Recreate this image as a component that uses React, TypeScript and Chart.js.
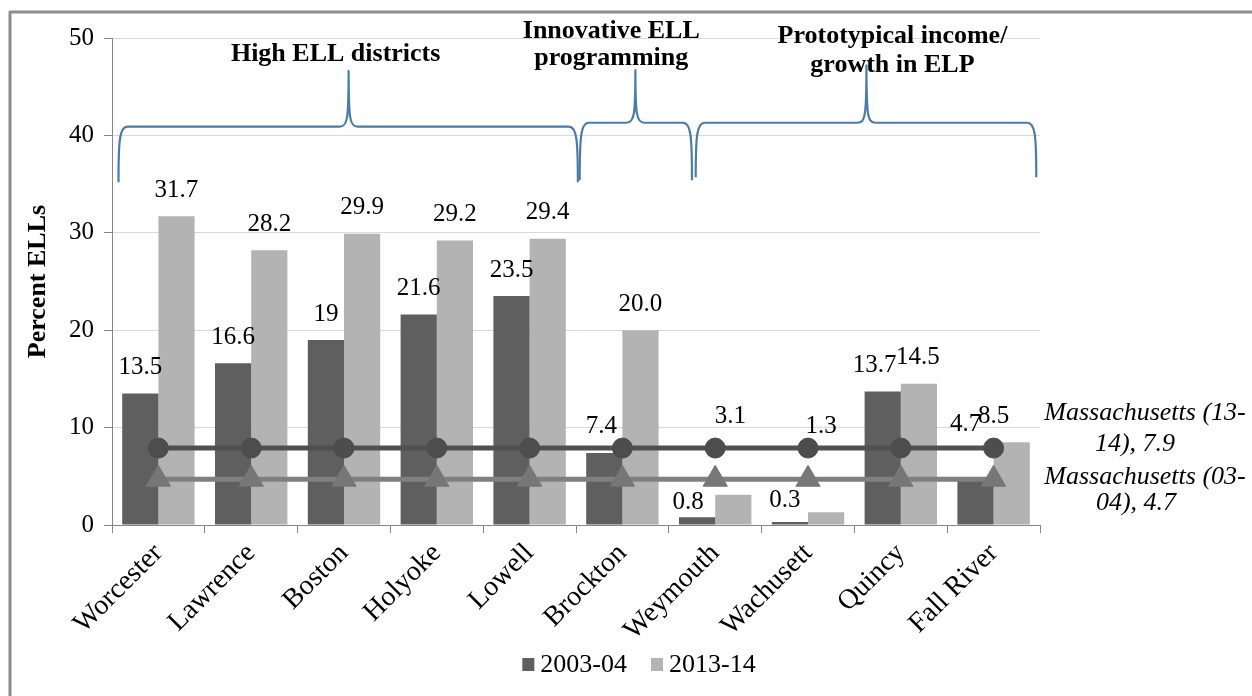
import React, { useEffect, useRef } from 'react';
import { Chart, registerables } from 'chart.js';

Chart.register(...registerables);

// ---- data ----
const categories = ['Worcester', 'Lawrence', 'Boston', 'Holyoke', 'Lowell', 'Brockton', 'Weymouth', 'Wachusett', 'Quincy', 'Fall River'];
const ell2003 = [13.5, 16.6, 19, 21.6, 23.5, 7.4, 0.8, 0.3, 13.7, 4.7];
const ell2013 = [31.7, 28.2, 29.9, 29.2, 29.4, 20.0, 3.1, 1.3, 14.5, 8.5];
const ma1314 = [7.9, 7.9, 7.9, 7.9, 7.9, 7.9, 7.9, 7.9, 7.9, 7.9];
const ma0304 = [4.7, 4.7, 4.7, 4.7, 4.7, 4.7, 4.7, 4.7, 4.7, 4.7];
const seriesNames = ['2003-04', '2013-14'];
const yMin = 0;
const yMax = 50;
const yStep = 10;
const axisTitle = 'Percent ELLs';
const maLabel1314 = ['Massachusetts (13-', '14), 7.9'];
const maLabel0304 = ['Massachusetts (03-', '04), 4.7'];

// ---- group annotations (brace spans in category units, levels in axis units) ----
const groupTitles = [['High ELL districts'], ['Innovative ELL', 'programming'], ['Prototypical income/', 'growth in ELP']];
const groupTitleCenter = [1.91, 4.88, 7.91];
const groupTitleBaselines = [[47.6], [50.0, 47.2], [49.5, 46.5]];
const braceStart = [-0.43, 4.54, 5.79];
const braceEnd = [4.52, 5.75, 9.46];
const bracePeak = [2.05, 5.14, 7.63];
const braceLevel = [40.9, 41.3, 41.3];
const braceTip = [35.2, 35.4, 35.7];
const bracePeakTop = [46.6, 46.7, 47.2];

// ---- label nudges (px) ----
const nudge2003dx = [0, 0, 0, 0, 0, -3, -9, -5, -8, -10];
const nudge2003dy = [0, 0, 0, 0, 0, 0, 11, 4, 0, -29];
const nudge2013dx = [0, 0, 0, 0, 0, 0, -3, -5, -1, -18];
const nudge2013dy = [0, 0, 0, 0, 0, 0, -52, -60, 0, 0];

const FONT = "'Liberation Serif', 'Times New Roman', serif";
const DARK = '#5f5f5f';
const LIGHT = '#b3b3b3';
const BRACE = '#4a7bad';

function catPx(x: any, u: number) {
  const w = x.getPixelForValue(1) - x.getPixelForValue(0);
  return x.getPixelForValue(0) + u * w;
}

const overlayPlugin = {
  id: 'overlay',
  afterDatasetsDraw(chart: any) {
    const ctx = chart.ctx;
    ctx.save();
    ctx.fillStyle = '#000';
    ctx.font = `25px ${FONT}`;
    ctx.textAlign = 'center';
    ctx.textBaseline = 'middle';
    const specs = [
      { idx: 2, vals: ell2003, fmt: (v: number) => String(v), dx: nudge2003dx, dy: nudge2003dy },
      { idx: 3, vals: ell2013, fmt: (v: number) => v.toFixed(1), dx: nudge2013dx, dy: nudge2013dy },
    ];
    specs.forEach((s) => {
      const meta = chart.getDatasetMeta(s.idx);
      meta.data.forEach((el: any, i: number) => {
        ctx.fillText(s.fmt(s.vals[i]), el.x + s.dx[i], el.y - 26 + s.dy[i]);
      });
    });
    ctx.restore();
  },
  afterDraw(chart: any) {
    const ctx = chart.ctx;
    const x = chart.scales.x;
    const y = chart.scales.y;
    ctx.save();

    // braces
    ctx.strokeStyle = BRACE;
    ctx.lineWidth = 2.2;
    ctx.lineJoin = 'round';
    for (let b = 0; b < braceStart.length; b++) {
      const x0 = catPx(x, braceStart[b]);
      const x1 = catPx(x, braceEnd[b]);
      const xp = catPx(x, bracePeak[b]);
      const yH = y.getPixelForValue(braceLevel[b]);
      const yT = y.getPixelForValue(braceTip[b]);
      const yP = y.getPixelForValue(bracePeakTop[b]);
      const c = 9;
      ctx.beginPath();
      ctx.moveTo(x0, yT);
      ctx.bezierCurveTo(x0, yH + (yT - yH) * 0.25, x0 + 1, yH, x0 + c, yH);
      ctx.lineTo(xp - c, yH);
      ctx.bezierCurveTo(xp - 1, yH, xp, yH - 8, xp, yP);
      ctx.bezierCurveTo(xp, yH - 8, xp + 1, yH, xp + c, yH);
      ctx.lineTo(x1 - c, yH);
      ctx.bezierCurveTo(x1 - 1, yH, x1, yH + (yT - yH) * 0.25, x1, yT);
      ctx.stroke();
    }

    // group titles
    ctx.fillStyle = '#000';
    ctx.font = `bold 26px ${FONT}`;
    ctx.textAlign = 'center';
    ctx.textBaseline = 'alphabetic';
    groupTitles.forEach((lines, g) => {
      lines.forEach((t, k) => {
        ctx.fillText(t, catPx(x, groupTitleCenter[g]), y.getPixelForValue(groupTitleBaselines[g][k]));
      });
    });

    // Massachusetts labels
    ctx.font = `italic 26px ${FONT}`;
    const cx = 1145;
    const y79 = y.getPixelForValue(ma1314[ma1314.length - 1]);
    const y47 = y.getPixelForValue(ma0304[ma0304.length - 1]);
    ctx.fillText(maLabel1314[0], cx, y79 - 28);
    ctx.fillText(maLabel1314[1], cx - 10, y79 + 3);
    ctx.fillText(maLabel0304[0], cx, y47 + 5);
    ctx.fillText(maLabel0304[1], cx - 9, y47 + 31);

    // legend
    ctx.font = `26px ${FONT}`;
    ctx.textAlign = 'left';
    ctx.textBaseline = 'middle';
    const colors = [DARK, LIGHT];
    const box = 12;
    const gapBox = 6;
    const gapItem = 24;
    const widths = seriesNames.map((n) => ctx.measureText(n).width);
    const total = widths.reduce((a, w) => a + box + gapBox + w, 0) + gapItem;
    let lx = 639 - total / 2;
    const ly = 665;
    seriesNames.forEach((n, i) => {
      ctx.fillStyle = colors[i];
      ctx.fillRect(lx, ly - 7, box, 13);
      ctx.fillStyle = '#000';
      ctx.fillText(n, lx + box + gapBox, ly);
      lx += box + gapBox + widths[i] + gapItem;
    });

    // frame
    ctx.strokeStyle = '#8c8c8c';
    ctx.lineWidth = 3;
    ctx.beginPath();
    ctx.moveTo(10, 700);
    ctx.lineTo(10, 12);
    ctx.lineTo(1260, 12);
    ctx.stroke();

    ctx.restore();
  },
};

export default function App() {
  const ref = useRef<HTMLCanvasElement | null>(null);
  useEffect(() => {
    if (!ref.current) return;
    const chart = new Chart(ref.current, {
      type: 'bar',
      data: {
        labels: categories,
        datasets: [
          {
            type: 'line',
            label: 'Massachusetts (13-14)',
            data: ma1314,
            borderColor: '#505050',
            backgroundColor: '#4d4d4d',
            borderWidth: 5,
            pointStyle: 'circle',
            pointRadius: 10,
            pointBackgroundColor: '#4d4d4d',
            pointBorderColor: '#4d4d4d',
            pointBorderWidth: 1,
            order: 0,
          } as any,
          {
            type: 'line',
            label: 'Massachusetts (03-04)',
            data: ma0304,
            borderColor: '#808080',
            backgroundColor: '#777777',
            borderWidth: 5,
            pointStyle: 'triangle',
            pointRadius: 14,
            pointBackgroundColor: '#777777',
            pointBorderColor: '#777777',
            pointBorderWidth: 1,
            order: 0,
          } as any,
          {
            type: 'bar',
            label: seriesNames[0],
            data: ell2003,
            backgroundColor: DARK,
            categoryPercentage: 0.78,
            barPercentage: 1,
            order: 2,
          },
          {
            type: 'bar',
            label: seriesNames[1],
            data: ell2013,
            backgroundColor: LIGHT,
            categoryPercentage: 0.78,
            barPercentage: 1,
            order: 2,
          },
        ],
      },
      options: {
        responsive: false,
        animation: false,
        devicePixelRatio: 1,
        layout: { padding: { left: 23, right: 212, top: 38, bottom: 0 } },
        plugins: {
          legend: { display: false },
          tooltip: { enabled: false },
        },
        scales: {
          x: {
            offset: true,
            grid: {
              display: true,
              drawOnChartArea: false,
              drawTicks: true,
              tickLength: 8,
              tickColor: '#868686',
              offset: true,
            },
            border: { color: '#868686', width: 1 },
            ticks: {
              font: { family: FONT, size: 28 },
              color: '#000',
              minRotation: 45,
              maxRotation: 45,
              autoSkip: false,
              padding: 4,
            },
            afterFit: (s: any) => {
              s.height = 171;
            },
          },
          y: {
            min: yMin,
            max: yMax,
            ticks: {
              stepSize: yStep,
              padding: 10,
              font: { family: FONT, size: 25 },
              color: '#000',
            },
            grid: { color: '#d9d9d9', tickColor: '#868686', tickLength: 8 },
            border: { color: '#868686', width: 1 },
            title: {
              display: true,
              text: axisTitle,
              font: { family: FONT, size: 26, weight: 'bold' },
              color: '#000',
              padding: 0,
            },
            afterFit: (s: any) => {
              s.width = 89;
            },
          },
        },
      },
      plugins: [overlayPlugin],
    } as any);
    return () => chart.destroy();
  }, []);
  return (
    <canvas
      ref={ref}
      width={1252}
      height={696}
      style={{ position: 'absolute', left: 0, top: 0, width: 1252, height: 696 }}
    />
  );
}
